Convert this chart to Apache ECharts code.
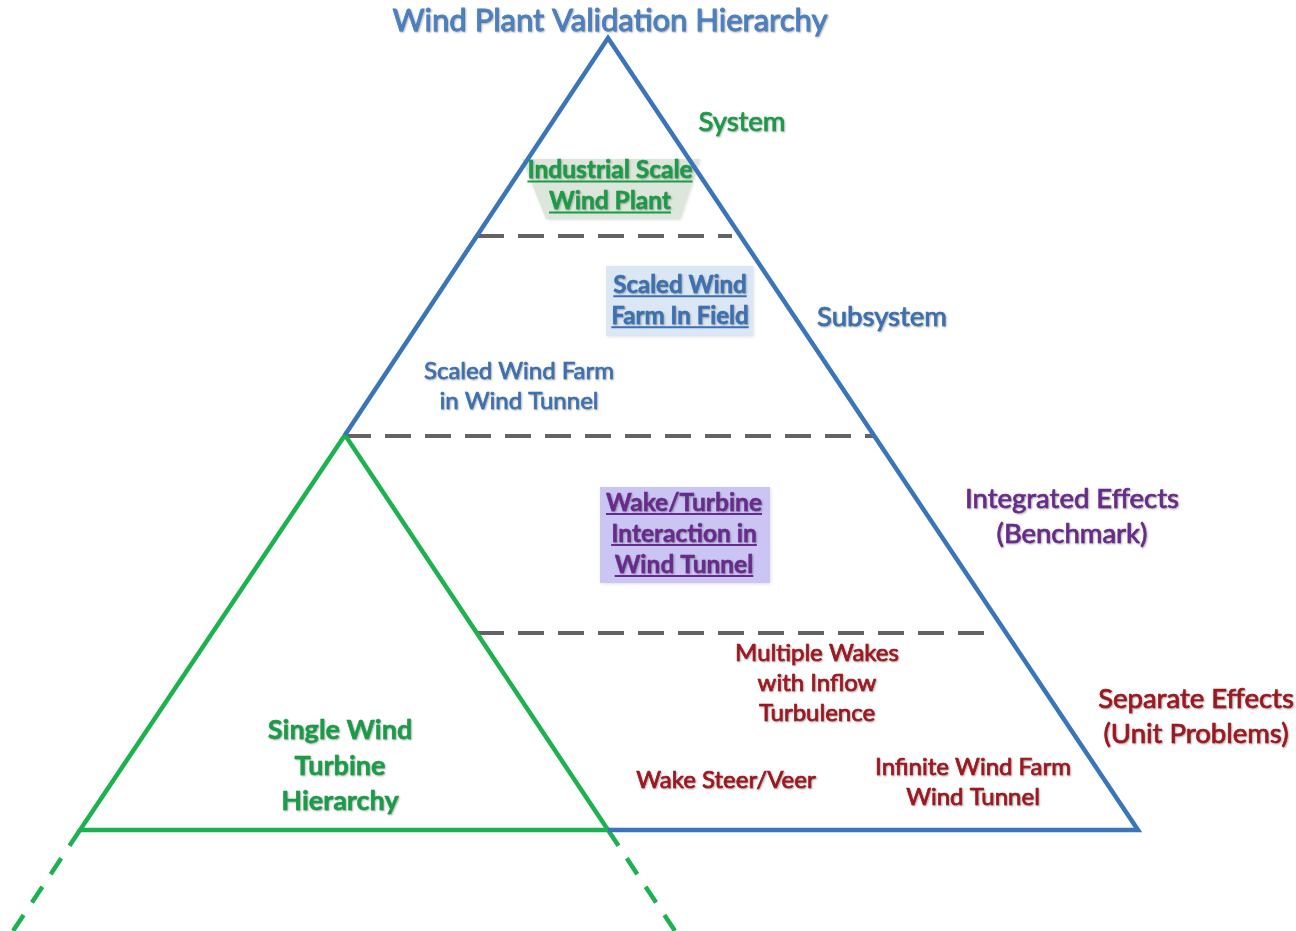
<!DOCTYPE html>
<html><head><meta charset="utf-8">
<script src="https://cdn.jsdelivr.net/npm/echarts@6/dist/echarts.min.js"></script>
<style>html,body{margin:0;padding:0;background:#fff}#c{width:1296px;height:931px}</style>
</head><body><div id="c"></div>
<script>
// ---- diagram geometry (diagram units = pixel grid 1296 x 931, y downward) ----
const bluePath = [[345,435],[608,38],[1138,830],[608,830]];
const greenPath = [[608,830],[345,435],[80,830],[608,830]];
const greenDashLeft = [[80,830],[13,931]];
const greenDashRight = [[608,830],[675,931]];
const levelLineY = [236, 436, 633];
const levelLineX = [[478,732],[345,875],[478,993]];
const boxIndustrial = [[522,159],[700,159],[680,219],[546,219]];
const boxFieldFarm = [[606,266],[753,266],[753,336],[606,336]];
const boxWakeTunnel = [[600,487],[770,487],[770,583],[600,583]];
const boxes = [boxIndustrial, boxFieldFarm, boxWakeTunnel];
const boxKinds = ['green','blue','purple'];

const labelTexts = [
  'Wind Plant Validation Hierarchy',
  'System',
  'Industrial Scale\nWind Plant',
  'Scaled Wind\nFarm In Field',
  'Subsystem',
  'Scaled Wind Farm\nin Wind Tunnel',
  'Integrated Effects\n(Benchmark)',
  'Wake/Turbine\nInteraction in\nWind Tunnel',
  'Multiple Wakes\nwith Inflow\nTurbulence',
  'Separate Effects\n(Unit Problems)',
  'Single Wind\nTurbine\nHierarchy',
  'Wake Steer/Veer',
  'Infinite Wind Farm\nWind Tunnel'
];
const labelAnchors = [[610,21],[742,122],[610,186],[680,301],[882,317],[519,386],[1072,517],[684,534],[817,683],[1196,717],[340,766],[726,780],[973,782]];
const labelKinds = ['title','tierGreen','boxGreen','boxBlue','tierBlue','plainBlue','tierPurple','boxPurple','plainRed','tierRed','bigGreen','plainRed','plainRed'];

// ---- styles ----
const FONT = 'Lato';
const C = {blue:'#3b70b2', green:'#189c46', purple:'#682a8c', red:'#a0161e', gray:'#636363'};
const styles = {
  title:     {size:31, weight:'normal', color:'#4a80c4', lh:32, ul:false, sw:0.8},
  tierGreen: {size:27.5, weight:'normal', color:C.green, lh:34, ul:false, sw:0.7},
  tierBlue:  {size:27.5, weight:'normal', color:C.blue, lh:34, ul:false, sw:0.7},
  tierPurple:{size:27.5, weight:'normal', color:C.purple, lh:35, ul:false, sw:0.7},
  tierRed:   {size:27.5, weight:'normal', color:C.red, lh:35, ul:false, sw:0.7},
  boxGreen:  {size:24.5, weight:'bold', color:C.green, lh:31, ul:true, sw:0.4},
  boxBlue:   {size:24, weight:'bold', color:C.blue, lh:31, ul:true, sw:0.4},
  boxPurple: {size:24.5, weight:'bold', color:C.purple, lh:31, ul:true, sw:0.4},
  plainBlue: {size:24, weight:'normal', color:C.blue, lh:30, ul:false, sw:0.6},
  plainRed:  {size:24, weight:'normal', color:C.red, lh:30, ul:false, sw:0.7},
  bigGreen:  {size:27, weight:'bold', color:C.green, lh:35.5, ul:false, sw:0.4}
};
const boxFill = {green:'#dde6da', blue:'#dbe7f4', purple:'#cac5f2'};

const mctx = document.createElement('canvas').getContext('2d');
function fontStr(s){ return s.weight + ' ' + s.size + 'px ' + FONT; }

function solid(name, pts, color, w){
  return {type:'line', name, data:pts, showSymbol:false, silent:true, z:3,
    lineStyle:{color, width:w, cap:'butt', join:'miter'}, animation:false};
}
function dashed(name, pts, color, w, dash){
  return {type:'line', name, data:pts, showSymbol:false, silent:true, z:2,
    lineStyle:{color, width:w, type:dash, cap:'butt'}, animation:false};
}

const series = [];
series.push({
  type:'custom', name:'boxes', z:1, silent:true, animation:false,
  data: boxes.map((b,i)=>[b[0][0], b[0][1], i]),
  renderItem(params, api){
    const i = params.dataIndex;
    const pts = boxes[i].map(p=>api.coord(p));
    return {type:'polygon', shape:{points:pts}, style:{fill:boxFill[boxKinds[i]],
      shadowColor:'rgba(0,0,0,0.12)', shadowBlur:3, shadowOffsetX:1, shadowOffsetY:1}};
  }
});
series.push(dashed('greenDashL', greenDashLeft, '#1db14f', 4.5, [19,15]));
series.push(dashed('greenDashR', greenDashRight, '#1db14f', 4.5, [19,15]));
levelLineY.forEach((y,i)=>{
  series.push(dashed('level'+i, [[levelLineX[i][0], y],[levelLineX[i][1], y]], C.gray, 4, [26,14]));
});
series.push(solid('green', greenPath, '#1db14f', 4.5));
series.push(solid('blue', bluePath, '#3a74b9', 4.5));

series.push({
  type:'custom', name:'labels', z:10, silent:true, animation:false,
  data: labelAnchors.map((a,i)=>[a[0], a[1], i]),
  renderItem(params, api){
    const i = params.dataIndex;
    const s = styles[labelKinds[i]];
    const p = api.coord(labelAnchors[i]);
    const text = labelTexts[i];
    const st = {text, fill:s.color, font:fontStr(s), align:'center', verticalAlign:'middle', lineHeight:s.lh,
        textShadowColor:'rgba(0,0,0,0.28)', textShadowBlur:2, textShadowOffsetX:1, textShadowOffsetY:1};
    if (s.sw){ st.stroke = s.color; st.lineWidth = s.sw; }
    const children = [{ type:'text', x:p[0], y:p[1], style:st }];
    if (s.ul){
      mctx.font = fontStr(s);
      const lines = text.split('\n');
      const top = p[1] - lines.length*s.lh/2;
      lines.forEach((ln,k)=>{
        const w = mctx.measureText(ln).width;
        const y = top + s.lh*(k+0.5) + s.size*0.45;
        children.push({type:'line', shape:{x1:p[0]-w/2, y1:y, x2:p[0]+w/2, y2:y},
          style:{stroke:s.color, lineWidth:2}});
      });
    }
    return {type:'group', children};
  }
});

const chart = echarts.init(document.getElementById('c'), null, {renderer:'canvas'});
chart.setOption({
  animation:false,
  backgroundColor:'#ffffff',
  grid:{left:0, right:0, top:0, bottom:0},
  xAxis:{type:'value', min:0, max:1296, show:false},
  yAxis:{type:'value', min:0, max:931, inverse:true, show:false},
  series
});
</script></body></html>
